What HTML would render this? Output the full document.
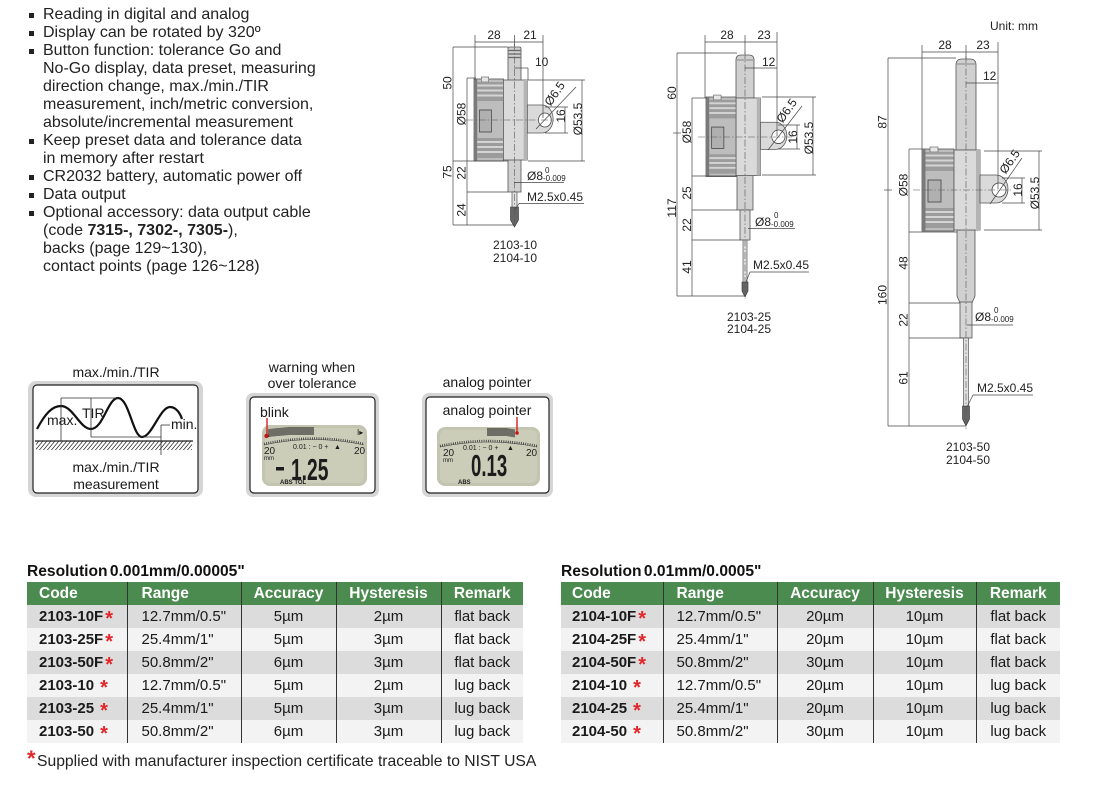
<!DOCTYPE html>
<html><head><meta charset="utf-8">
<style>
*{margin:0;padding:0;box-sizing:border-box}
html,body{width:1097px;height:791px;background:#fff;overflow:hidden}
body{position:relative;font-family:"Liberation Sans",Arial,sans-serif;color:#1a1a1a}
.ln{position:absolute;left:43px;font-size:16px;line-height:18px;white-space:nowrap;color:#222}
.bu{position:absolute;left:29px;width:5px;height:5px;background:#222}
svg{position:absolute;left:0;top:0}
.ttl{position:absolute;font-weight:bold;font-size:15.6px;line-height:15px;white-space:nowrap;color:#111;word-spacing:-2px}
table{position:absolute;border-collapse:collapse;table-layout:fixed;font-size:15px;color:#1a1a1a}
td{height:23px;padding:0;line-height:22px;white-space:nowrap;text-align:center;border-left:1.5px solid #333;overflow:hidden}
td:first-child{border-left:none;text-align:left;padding-left:12px;font-weight:bold}
td.r{text-align:left;padding-left:14px}
tr.h td{background:#4b8b4f;color:#fff;font-weight:bold;font-size:15.5px}
tr.g td{background:#dcdcdc}
tr.w td{background:#f3f3f3}
.s{color:#e3262a;font-size:20px;line-height:1px;position:relative;top:4px;margin-left:2px}
.sp{margin-left:6px}
.foot{position:absolute;left:37px;top:753px;font-size:15.7px;line-height:18px;white-space:nowrap;color:#222}
.fs{position:absolute;left:27px;top:748px;color:#e3262a;font-size:22px;line-height:22px;font-weight:bold}
.dl{stroke:#444;stroke-width:.7;fill:none}
.cl{stroke:#555;stroke-width:.6;fill:none;stroke-dasharray:7 2 1.5 2}
.dt{font-family:"Liberation Sans",Arial,sans-serif;font-size:12px;fill:#222}
.tt{font-family:"Liberation Sans",Arial,sans-serif;font-size:8px;fill:#222}
.it{font-family:"Liberation Sans",Arial,sans-serif;font-size:14px;fill:#1a1a1a}
.lc{font-family:"Liberation Sans Narrow","Liberation Sans",Arial,sans-serif;fill:#1c1c1c}
</style></head>
<body>

<div class="bu" style="top:13px"></div><div class="ln" style="top:6px">Reading in digital and analog</div>
<div class="bu" style="top:31px"></div><div class="ln" style="top:24px">Display can be rotated by 320º</div>
<div class="bu" style="top:49px"></div><div class="ln" style="top:42px">Button function: tolerance Go and</div>
<div class="ln" style="top:60px">No-Go display, data preset, measuring</div>
<div class="ln" style="top:78px">direction change, max./min./TIR</div>
<div class="ln" style="top:96px">measurement, inch/metric conversion,</div>
<div class="ln" style="top:114px">absolute/incremental measurement</div>
<div class="bu" style="top:139px"></div><div class="ln" style="top:132px">Keep preset data and tolerance data</div>
<div class="ln" style="top:150px">in memory after restart</div>
<div class="bu" style="top:175px"></div><div class="ln" style="top:168px">CR2032 battery, automatic power off</div>
<div class="bu" style="top:193px"></div><div class="ln" style="top:186px">Data output</div>
<div class="bu" style="top:211px"></div><div class="ln" style="top:204px">Optional accessory: data output cable</div>
<div class="ln" style="top:222px">(code <b>7315-, 7302-, 7305-</b>),</div>
<div class="ln" style="top:240px">backs (page 129~130),</div>
<div class="ln" style="top:258px">contact points (page 126~128)</div>

<svg width="1097" height="791" viewBox="0 0 1097 791">
<defs>
<pattern id="hp" width="4" height="10" patternUnits="userSpaceOnUse" patternTransform="skewX(-40)"><line x1="1" y1="0" x2="1" y2="10" stroke="#333" stroke-width="1"/></pattern>
<g id="bd">
 <rect x="0" y="0" width="32" height="82" fill="#bdbdbd" stroke="#555" stroke-width=".8"/>
 <rect x="0" y="0" width="3.5" height="82" fill="#7a7a7a"/>
 <rect x="8" y="-2" width="8" height="5" fill="#e6e6e6" stroke="#555" stroke-width=".6"/>
 <rect x="3.5" y="3" width="28.5" height="19" fill="#9c9c9c"/>
 <rect x="3.5" y="5.5" width="28.5" height="2" fill="#d4d4d4"/>
 <rect x="3.5" y="10.5" width="28.5" height="2" fill="#d4d4d4"/>
 <rect x="3.5" y="15.5" width="28.5" height="2" fill="#d4d4d4"/>
 <rect x="3.5" y="59" width="28.5" height="20" fill="#9c9c9c"/>
 <rect x="3.5" y="62" width="28.5" height="2" fill="#d4d4d4"/>
 <rect x="3.5" y="67" width="28.5" height="2" fill="#d4d4d4"/>
 <rect x="3.5" y="72" width="28.5" height="2" fill="#d4d4d4"/>
 <rect x="6" y="31" width="13" height="22" fill="#b0b0b0" stroke="#444" stroke-width=".8"/>
 <rect x="32" y="1" width="26" height="80" fill="#dadada" stroke="#555" stroke-width=".8"/>
 <rect x="54" y="1" width="4" height="80" fill="#b4b4b4"/>
 <path d="M58,26H74A12,14 0 0 1 74,54H58Z" fill="#dadada" stroke="#555" stroke-width=".8"/>
 <circle cx="77" cy="41" r="7" fill="#fff" stroke="#444" stroke-width=".8"/>
</g>
</defs>

<!-- ========== Drawing 1 : 2103-10 ========== -->
<rect x="508" y="47" width="13" height="34" rx="1.5" fill="#d0d0d0" stroke="#555" stroke-width=".8"/>
<g stroke="#6a6a6a" stroke-width="1.3"><line x1="508.5" y1="50.5" x2="520.5" y2="50.5"/><line x1="508.5" y1="54" x2="520.5" y2="54"/><line x1="508.5" y1="57.5" x2="520.5" y2="57.5"/></g>
<rect x="508" y="159" width="13" height="33" fill="#d0d0d0" stroke="#555" stroke-width=".8"/>
<rect x="512" y="192" width="5" height="16" fill="#e0e0e0" stroke="#555" stroke-width=".7"/>
<path d="M510.5,207H518.5V220L514.5,227L510.5,220Z" fill="#666" stroke="#333" stroke-width=".6"/>
<use href="#bd" transform="translate(474,79) scale(0.92,1)"/>
<line class="cl" x1="514.5" y1="44" x2="514.5" y2="228"/>
<line class="cl" x1="466" y1="120" x2="554" y2="120"/>
<g class="dl">
<line x1="475" y1="42" x2="543" y2="42"/>
<line x1="475" y1="35" x2="475" y2="80"/>
<line x1="514.5" y1="35" x2="514.5" y2="46"/>
<line x1="543" y1="35" x2="543" y2="118"/>
<line x1="514" y1="68" x2="528" y2="68"/><line x1="528" y1="68" x2="528" y2="80"/>
<line x1="453" y1="47" x2="453" y2="225"/>
<line x1="453" y1="47" x2="508" y2="47"/>
<line x1="453" y1="161" x2="508" y2="161"/>
<line x1="453" y1="225" x2="514" y2="225"/>
<line x1="467" y1="78" x2="467" y2="225"/>
<line x1="467" y1="78" x2="476" y2="78"/>
<line x1="467" y1="192" x2="508" y2="192"/>
<line x1="528" y1="80" x2="585" y2="80"/>
<line x1="528" y1="161" x2="585" y2="161"/>
<line x1="582" y1="80" x2="582" y2="161"/>
<line x1="545" y1="107" x2="568" y2="107"/>
<line x1="545" y1="133" x2="568" y2="133"/>
<line x1="565" y1="107" x2="565" y2="133"/>
<line x1="536" y1="129" x2="576" y2="87"/>
<line x1="514" y1="182.5" x2="564" y2="182.5"/>
<line x1="519" y1="203.5" x2="584" y2="203.5"/><line x1="519" y1="203.5" x2="515" y2="210"/>
</g>
<g class="dt">
<text x="494" y="39" text-anchor="middle">28</text>
<text x="530" y="39" text-anchor="middle">21</text>
<text x="535" y="66">10</text>
<text transform="translate(451.5,83) rotate(-90)" text-anchor="middle">50</text>
<text transform="translate(465.5,114) rotate(-90)" text-anchor="middle">Ø58</text>
<text transform="translate(451.5,172) rotate(-90)" text-anchor="middle">75</text>
<text transform="translate(465.5,173) rotate(-90)" text-anchor="middle">22</text>
<text transform="translate(465.5,210) rotate(-90)" text-anchor="middle">24</text>
<text transform="translate(582,119) rotate(-90)" text-anchor="middle">Ø53.5</text>
<text transform="translate(565,116) rotate(-90)" text-anchor="middle">16</text>
<text transform="translate(558,96) rotate(-55)" text-anchor="middle">Ø6.5</text>
<text x="527" y="180">Ø8</text>
<text x="527" y="201">M2.5x0.45</text>
<text x="515" y="249" text-anchor="middle">2103-10</text>
<text x="515" y="262" text-anchor="middle">2104-10</text>
</g>
<text class="tt" x="545" y="173">0</text><text class="tt" x="543" y="181">-0.009</text>

<!-- ========== Drawing 2 : 2103-25 ========== -->
<path d="M736,98V60Q736,55 741,55H749Q754,55 754,60V98Z" fill="#d0d0d0" stroke="#555" stroke-width=".8"/>
<line x1="737" y1="60" x2="753" y2="60" stroke="#888" stroke-width="1"/>
<rect x="737" y="175" width="16" height="35" fill="#d0d0d0" stroke="#555" stroke-width=".8"/>
<rect x="740" y="210" width="10" height="30" fill="#d6d6d6" stroke="#555" stroke-width=".8"/>
<rect x="743" y="240" width="4" height="43" fill="#e0e0e0" stroke="#555" stroke-width=".7"/>
<path d="M742,282H748V291L745,297L742,291Z" fill="#666" stroke="#333" stroke-width=".6"/>
<use href="#bd" transform="translate(706,97) scale(0.94,0.97)"/>
<line class="cl" x1="745" y1="52" x2="745" y2="299"/>
<line class="cl" x1="698" y1="137" x2="792" y2="137"/>
<g class="dl">
<line x1="705" y1="42" x2="777" y2="42"/>
<line x1="705" y1="35" x2="705" y2="98"/>
<line x1="745" y1="35" x2="745" y2="54"/>
<line x1="777" y1="32" x2="777" y2="136"/>
<line x1="745" y1="68" x2="777" y2="68"/>
<line x1="677" y1="53" x2="677" y2="296"/>
<line x1="677" y1="53" x2="737" y2="53"/>
<line x1="673" y1="133" x2="681" y2="133"/>
<line x1="692" y1="98" x2="692" y2="296"/>
<line x1="692" y1="98" x2="707" y2="98"/>
<line x1="692" y1="176" x2="737" y2="176"/>
<line x1="692" y1="210" x2="737" y2="210"/>
<line x1="692" y1="240" x2="741" y2="240"/>
<line x1="677" y1="296" x2="746" y2="296"/>
<line x1="762" y1="97" x2="816" y2="97"/>
<line x1="762" y1="175" x2="816" y2="175"/>
<line x1="813" y1="97" x2="813" y2="175"/>
<line x1="778" y1="125" x2="800" y2="125"/>
<line x1="778" y1="149" x2="800" y2="149"/>
<line x1="797" y1="125" x2="797" y2="149"/>
<line x1="768" y1="150" x2="802" y2="106"/>
<line x1="748" y1="228.5" x2="795" y2="228.5"/>
<line x1="750" y1="272" x2="809" y2="272"/><line x1="750" y1="272" x2="746" y2="282"/>
</g>
<g class="dt">
<text x="727" y="39" text-anchor="middle">28</text>
<text x="764" y="39" text-anchor="middle">23</text>
<text x="762" y="66">12</text>
<text transform="translate(676,93) rotate(-90)" text-anchor="middle">60</text>
<text transform="translate(676,208) rotate(-90)" text-anchor="middle">117</text>
<text transform="translate(691,132) rotate(-90)" text-anchor="middle">Ø58</text>
<text transform="translate(691,193) rotate(-90)" text-anchor="middle">25</text>
<text transform="translate(691,225) rotate(-90)" text-anchor="middle">22</text>
<text transform="translate(691,267) rotate(-90)" text-anchor="middle">41</text>
<text transform="translate(813,138) rotate(-90)" text-anchor="middle">Ø53.5</text>
<text transform="translate(797,137) rotate(-90)" text-anchor="middle">16</text>
<text transform="translate(790,113) rotate(-55)" text-anchor="middle">Ø6.5</text>
<text x="755" y="226">Ø8</text>
<text x="753" y="269">M2.5x0.45</text>
<text x="749" y="321" text-anchor="middle">2103-25</text>
<text x="749" y="333" text-anchor="middle">2104-25</text>
</g>
<text class="tt" x="774" y="218">0</text><text class="tt" x="771" y="227">-0.009</text>

<!-- ========== Drawing 3 : 2103-50 ========== -->
<text class="dt" x="990" y="30">Unit: mm</text>
<path d="M956,150V65Q956,59 962,59H970Q976,59 976,65V150Z" fill="#d0d0d0" stroke="#555" stroke-width=".8"/>
<line x1="957" y1="64" x2="975" y2="64" stroke="#888" stroke-width="1"/>
<path d="M957,230V296L960,303H972L975,296V230Z" fill="#d0d0d0" stroke="#555" stroke-width=".8"/>
<rect x="960" y="302" width="12" height="36" fill="#d6d6d6" stroke="#555" stroke-width=".8"/>
<rect x="963.5" y="338" width="5" height="70" fill="#e0e0e0" stroke="#555" stroke-width=".7"/>
<path d="M962.5,406H969.5V419L966,426L962.5,419Z" fill="#666" stroke="#333" stroke-width=".6"/>
<use href="#bd" transform="translate(922,149)"/>
<line class="cl" x1="966" y1="56" x2="966" y2="429"/>
<line class="cl" x1="913" y1="190" x2="1012" y2="190"/>
<g class="dl">
<line x1="922" y1="52" x2="998" y2="52"/>
<line x1="922" y1="45" x2="922" y2="149"/>
<line x1="966" y1="45" x2="966" y2="59"/>
<line x1="998" y1="42" x2="998" y2="189"/>
<line x1="966" y1="83" x2="998" y2="83"/>
<line x1="888" y1="58" x2="888" y2="426"/>
<line x1="888" y1="58" x2="956" y2="58"/>
<line x1="884" y1="190" x2="892" y2="190"/>
<line x1="909" y1="149" x2="909" y2="426"/>
<line x1="909" y1="149" x2="922" y2="149"/>
<line x1="909" y1="232" x2="957" y2="232"/>
<line x1="909" y1="303" x2="960" y2="303"/>
<line x1="909" y1="338" x2="963" y2="338"/>
<line x1="888" y1="426" x2="966" y2="426"/>
<line x1="984" y1="151" x2="1042" y2="151"/>
<line x1="984" y1="230" x2="1042" y2="230"/>
<line x1="1039" y1="151" x2="1039" y2="230"/>
<line x1="1002" y1="178" x2="1025" y2="178"/>
<line x1="1002" y1="203" x2="1025" y2="203"/>
<line x1="1022" y1="178" x2="1022" y2="203"/>
<line x1="990" y1="204" x2="1022" y2="158"/>
<line x1="967" y1="325" x2="1013" y2="325"/>
<line x1="973" y1="395" x2="1033" y2="395"/><line x1="973" y1="395" x2="967" y2="407"/>
</g>
<g class="dt">
<text x="945" y="49" text-anchor="middle">28</text>
<text x="983" y="49" text-anchor="middle">23</text>
<text x="983" y="80">12</text>
<text transform="translate(886.5,122) rotate(-90)" text-anchor="middle">87</text>
<text transform="translate(886.5,295) rotate(-90)" text-anchor="middle">160</text>
<text transform="translate(907.5,185) rotate(-90)" text-anchor="middle">Ø58</text>
<text transform="translate(907.5,263) rotate(-90)" text-anchor="middle">48</text>
<text transform="translate(907.5,320) rotate(-90)" text-anchor="middle">22</text>
<text transform="translate(907.5,378) rotate(-90)" text-anchor="middle">61</text>
<text transform="translate(1039,193) rotate(-90)" text-anchor="middle">Ø53.5</text>
<text transform="translate(1022,190) rotate(-90)" text-anchor="middle">16</text>
<text transform="translate(1013,164) rotate(-55)" text-anchor="middle">Ø6.5</text>
<text x="975" y="321">Ø8</text>
<text x="977" y="392">M2.5x0.45</text>
<text x="968" y="451" text-anchor="middle">2103-50</text>
<text x="968" y="464" text-anchor="middle">2104-50</text>
</g>
<text class="tt" x="994" y="313">0</text><text class="tt" x="991" y="322">-0.009</text>

<!-- ========== Icon 1 ========== -->
<text class="it" x="116" y="377" text-anchor="middle">max./min./TIR</text>
<rect x="28" y="381" width="175" height="116" rx="8" fill="#d5d5d5"/>
<rect x="33" y="385" width="165" height="108" rx="4" fill="#fff" stroke="#222" stroke-width="1.2"/>
<rect x="36" y="441" width="156" height="9" fill="url(#hp)"/>
<line x1="35" y1="441" x2="193" y2="441" stroke="#222" stroke-width="1.3"/>
<path d="M37,429C45,414 52,406 61,406C73,406 80,429 91,429C103,429 108,398 118,398C129,398 133,437 142,437C152,437 160,407 170,407C176,407 180,413 182,419" fill="none" stroke="#111" stroke-width="2.2"/>
<g stroke="#333" stroke-width=".8">
<line x1="61" y1="398" x2="61" y2="441"/>
<line x1="61" y1="398" x2="118" y2="398"/>
<line x1="91" y1="398" x2="91" y2="437"/>
<line x1="91" y1="437" x2="161" y2="437"/>
<line x1="161" y1="425" x2="161" y2="455"/>
<line x1="161" y1="425" x2="170" y2="425"/>
</g>
<g class="it">
<text x="47" y="425">max.</text>
<text x="82" y="418">TIR</text>
<text x="171" y="429">min.</text>
<text x="116" y="472" text-anchor="middle">max./min./TIR</text>
<text x="116" y="489" text-anchor="middle">measurement</text>
</g>

<!-- ========== Icon 2 ========== -->
<g class="it">
<text x="312" y="372" text-anchor="middle">warning when</text>
<text x="312" y="388" text-anchor="middle">over tolerance</text>
</g>
<rect x="246" y="393" width="133" height="104" rx="7" fill="#d5d5d5"/>
<rect x="250" y="397" width="125" height="96" rx="4" fill="#fff" stroke="#222" stroke-width="1.2"/>
<text class="it" x="260" y="417">blink</text>
<rect x="262" y="425" width="105" height="61" rx="8" fill="#c3c5b1"/>
<rect x="265" y="428" width="99" height="55" rx="6" fill="#cbcdb9"/>
<g stroke="#222" stroke-width="1.1">
<line x1="267" y1="429" x2="267" y2="437"/><line x1="269" y1="429" x2="269" y2="437"/><line x1="271" y1="428.7" x2="271" y2="436.7"/><line x1="273" y1="428.5" x2="273" y2="436.5"/><line x1="275" y1="428.3" x2="275" y2="436.3"/><line x1="277" y1="428" x2="277" y2="436"/><line x1="279" y1="428" x2="279" y2="436"/><line x1="281" y1="427.8" x2="281" y2="435.8"/><line x1="283" y1="427.6" x2="283" y2="435.6"/><line x1="285" y1="427.4" x2="285" y2="435.4"/><line x1="287" y1="427.2" x2="287" y2="435.2"/><line x1="289" y1="427" x2="289" y2="435"/><line x1="291" y1="427" x2="291" y2="435"/><line x1="293" y1="427" x2="293" y2="435"/><line x1="295" y1="427" x2="295" y2="435"/><line x1="297" y1="427" x2="297" y2="435"/><line x1="299" y1="427" x2="299" y2="435"/><line x1="301" y1="427" x2="301" y2="435"/><line x1="303" y1="427" x2="303" y2="435"/><line x1="305" y1="427" x2="305" y2="435"/><line x1="307" y1="427" x2="307" y2="435"/><line x1="309" y1="427" x2="309" y2="435"/><line x1="311" y1="427" x2="311" y2="435"/><line x1="313" y1="427" x2="313" y2="435"/>
</g>
<path d="M264,444Q314,433 364,444" fill="none" stroke="#333" stroke-width="2.5" stroke-dasharray=".8 1.4"/>
<path d="M264,445Q314,434 364,445" fill="none" stroke="#444" stroke-width=".6"/>
<line x1="267" y1="418" x2="267" y2="436" stroke="#d42020" stroke-width="1.4"/>
<circle cx="266.5" cy="436" r="2.2" fill="#c01818"/>
<g class="lc">
<text x="264" y="454" font-size="10">20</text>
<text x="264" y="460" font-size="6">mm</text>
<text x="293" y="449" font-size="7">0.01 : − 0 +</text>
<text x="334" y="449" font-size="7">▲</text>
<text x="354" y="454" font-size="10">20</text>
<text x="357" y="435" font-size="8">I▸</text>
<text transform="translate(291,480) scale(0.62,1)" font-size="31" font-weight="bold">1.25</text>
<text x="280" y="484" font-size="6" font-weight="bold">ABS  TOL</text>
</g>
<rect x="276" y="467" width="8" height="3.5" fill="#1c1c1c"/>

<!-- ========== Icon 3 ========== -->
<text class="it" x="487" y="387" text-anchor="middle">analog pointer</text>
<rect x="422" y="393" width="131" height="104" rx="7" fill="#d5d5d5"/>
<rect x="426" y="397" width="123" height="96" rx="4" fill="#fff" stroke="#222" stroke-width="1.2"/>
<text class="it" x="487" y="415" text-anchor="middle">analog pointer</text>
<rect x="437" y="427" width="103" height="59" rx="8" fill="#c3c5b1"/>
<rect x="440" y="430" width="97" height="53" rx="6" fill="#cbcdb9"/>
<g stroke="#222" stroke-width="1.1">
<line x1="488" y1="428" x2="488" y2="436"/><line x1="490" y1="428" x2="490" y2="436"/><line x1="492" y1="428" x2="492" y2="436"/><line x1="494" y1="428" x2="494" y2="436"/><line x1="496" y1="428" x2="496" y2="436"/><line x1="498" y1="428" x2="498" y2="436"/><line x1="500" y1="428" x2="500" y2="436"/><line x1="502" y1="428" x2="502" y2="436"/><line x1="504" y1="428" x2="504" y2="436"/><line x1="506" y1="428" x2="506" y2="436"/><line x1="508" y1="428.3" x2="508" y2="436.3"/><line x1="510" y1="428.6" x2="510" y2="436.6"/><line x1="512" y1="429" x2="512" y2="437"/><line x1="514" y1="429.3" x2="514" y2="437.3"/>
</g>
<line x1="517" y1="417" x2="517" y2="433" stroke="#d42020" stroke-width="1.4"/>
<circle cx="517" cy="433" r="1.8" fill="#c01818"/>
<path d="M440,446Q488,436 537,446" fill="none" stroke="#333" stroke-width="2.5" stroke-dasharray=".8 1.4"/>
<path d="M440,447Q488,437 537,447" fill="none" stroke="#444" stroke-width=".6"/>
<g class="lc">
<text x="443" y="456" font-size="10">20</text>
<text x="443" y="462" font-size="6">mm</text>
<text x="463" y="450" font-size="7">0.01 :  − 0 +</text>
<text x="507" y="450" font-size="7">▲</text>
<text x="526" y="456" font-size="10">20</text>
<text transform="translate(471,476) scale(0.6,1)" font-size="31" font-weight="bold">0.13</text>
<text x="458" y="484" font-size="6" font-weight="bold">ABS</text>
</g>
</svg>

<div class="ttl" style="left:27px;top:564px">Resolution 0.001mm/0.00005"</div>
<table style="left:27px;top:582px;width:496px">
<colgroup><col style="width:100px"><col style="width:114px"><col style="width:95px"><col style="width:105px"><col style="width:82px"></colgroup>
<tr class="h"><td>Code</td><td class="r">Range</td><td>Accuracy</td><td>Hysteresis</td><td>Remark</td></tr>
<tr class="g"><td>2103-10F<span class="s">*</span></td><td class="r">12.7mm/0.5"</td><td>5µm</td><td>2µm</td><td>flat back</td></tr>
<tr class="w"><td>2103-25F<span class="s">*</span></td><td class="r">25.4mm/1"</td><td>5µm</td><td>3µm</td><td>flat back</td></tr>
<tr class="g"><td>2103-50F<span class="s">*</span></td><td class="r">50.8mm/2"</td><td>6µm</td><td>3µm</td><td>flat back</td></tr>
<tr class="w"><td>2103-10<span class="s sp">*</span></td><td class="r">12.7mm/0.5"</td><td>5µm</td><td>2µm</td><td>lug back</td></tr>
<tr class="g"><td>2103-25<span class="s sp">*</span></td><td class="r">25.4mm/1"</td><td>5µm</td><td>3µm</td><td>lug back</td></tr>
<tr class="w"><td>2103-50<span class="s sp">*</span></td><td class="r">50.8mm/2"</td><td>6µm</td><td>3µm</td><td>lug back</td></tr>
</table>

<div class="ttl" style="left:561px;top:564px">Resolution 0.01mm/0.0005"</div>
<table style="left:561px;top:582px;width:499px">
<colgroup><col style="width:102px"><col style="width:114px"><col style="width:96px"><col style="width:103px"><col style="width:84px"></colgroup>
<tr class="h"><td style="padding-left:11px">Code</td><td class="r" style="padding-left:13px">Range</td><td>Accuracy</td><td>Hysteresis</td><td>Remark</td></tr>
<tr class="g"><td style="padding-left:11px">2104-10F<span class="s">*</span></td><td class="r" style="padding-left:13px">12.7mm/0.5"</td><td>20µm</td><td>10µm</td><td>flat back</td></tr>
<tr class="w"><td style="padding-left:11px">2104-25F<span class="s">*</span></td><td class="r" style="padding-left:13px">25.4mm/1"</td><td>20µm</td><td>10µm</td><td>flat back</td></tr>
<tr class="g"><td style="padding-left:11px">2104-50F<span class="s">*</span></td><td class="r" style="padding-left:13px">50.8mm/2"</td><td>30µm</td><td>10µm</td><td>flat back</td></tr>
<tr class="w"><td style="padding-left:11px">2104-10<span class="s sp">*</span></td><td class="r" style="padding-left:13px">12.7mm/0.5"</td><td>20µm</td><td>10µm</td><td>lug back</td></tr>
<tr class="g"><td style="padding-left:11px">2104-25<span class="s sp">*</span></td><td class="r" style="padding-left:13px">25.4mm/1"</td><td>20µm</td><td>10µm</td><td>lug back</td></tr>
<tr class="w"><td style="padding-left:11px">2104-50<span class="s sp">*</span></td><td class="r" style="padding-left:13px">50.8mm/2"</td><td>30µm</td><td>10µm</td><td>lug back</td></tr>
</table>

<div class="fs">*</div>
<div class="foot">Supplied with manufacturer inspection certificate traceable to NIST USA</div>

</body></html>
